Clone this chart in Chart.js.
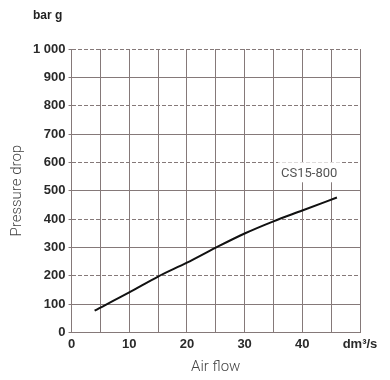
<!DOCTYPE html>
<html>
<head>
<meta charset="utf-8">
<script src="https://cdn.jsdelivr.net/npm/chart.js@4.4.1/dist/chart.umd.min.js"></script>
<style>
  html, body { margin: 0; padding: 0; background: #fff; }
  #wrap { width: 390px; height: 380px; }
</style>
</head>
<body>
<div id="wrap"><canvas id="c" width="390" height="380"></canvas></div>
<script>
// Perte de charge CS15-800 : débit d'air (dm3/s) vs pression (bar g)
const flow = [4, 10, 15, 20, 25, 30, 35, 40, 46];
const drop = [77, 141, 197, 246, 299, 349, 392, 430, 476];
const seriesName = 'CS15-800';
const xTicks = [0, 10, 20, 30, 40];
const xUnit = 'dm³/s';
const yUnit = 'bar g';
const dashedY = [200, 400, 600, 800, 1000];

const gridCol = '#857979';
const tickFont = { family: "'Liberation Sans', Arial, sans-serif", size: 13, weight: 'bold' };

// libellés "bar g" et CS15-800 (avec fond blanc)
const labels = {
  id: 'labels',
  afterDatasetsDraw(chart) {
    const { ctx, scales: { x, y } } = chart;
    ctx.save();
    ctx.font = "bold 12px 'Liberation Sans', Arial, sans-serif";
    ctx.fillStyle = '#222';
    ctx.textBaseline = 'middle';
    ctx.fillText(yUnit, 33, 16);

    const px = x.getPixelForValue(41.2), py = y.getPixelForValue(565);
    ctx.font = "13px 'Roboto', sans-serif";
    const w = ctx.measureText(seriesName).width;
    ctx.fillStyle = '#fff';
    ctx.fillRect(px - w / 2 - 3, py - 10, w + 6, 20);
    ctx.fillStyle = '#555';
    ctx.textAlign = 'center';
    ctx.fillText(seriesName, px, py + 1);
    ctx.restore();
  }
};

new Chart(document.getElementById('c'), {
  type: 'line',
  data: {
    datasets: [{
      label: seriesName,
      data: flow.map((f, i) => ({ x: f, y: drop[i] })),
      borderColor: '#111',
      borderWidth: 2,
      pointRadius: 0,
      cubicInterpolationMode: 'monotone',
      fill: false,
    }]
  },
  options: {
    responsive: false,
    animation: false,
    layout: { padding: { left: 4, right: 30, top: 49, bottom: 2 } },
    plugins: { legend: { display: false }, tooltip: { enabled: false } },
    scales: {
      x: {
        type: 'linear', min: 0, max: 50,
        ticks: {
          stepSize: 5, autoSkip: false, maxRotation: 0, padding: 4,
          font: tickFont, color: '#2a2a2a',
          callback: (v) => (v === 50 ? xUnit : (xTicks.includes(v) ? String(v) : '')),
        },
        grid: { color: gridCol, lineWidth: 1, drawTicks: false },
        border: { color: gridCol, width: 1 },
        title: { display: true, text: 'Air flow', color: '#444', font: { family: "'Roboto', sans-serif", size: 15, weight: '300' }, padding: { top: 2, bottom: 2 } },
      },
      y: {
        min: 0, max: 1000,
        ticks: {
          stepSize: 100, padding: 3, font: tickFont, color: '#2a2a2a',
          callback: (v) => (v >= 1000 ? '1 000' : String(v)),
        },
        // lignes pleines sur les centaines impaires, pointillées via y2
        grid: {
          color: (c) => ((c.tick && c.tick.value % 200 === 100) ? gridCol : 'rgba(0,0,0,0)'),
          tickColor: gridCol, tickLength: 3, lineWidth: 1,
        },
        border: { color: gridCol, width: 1 },
        title: { display: true, text: 'Pressure drop', color: '#444', font: { family: "'Roboto', sans-serif", size: 15, weight: '300' }, padding: { bottom: 4 } },
      },
      y2: {
        position: 'left', min: 0, max: 1000, display: true,
        afterBuildTicks: (axis) => { axis.ticks = dashedY.map((v) => ({ value: v })); },
        ticks: { display: false },
        grid: { color: gridCol, lineWidth: 1, drawTicks: false },
        border: { display: false, dash: [4, 2] },
      },
    }
  },
  plugins: [labels]
});
</script>
</body>
</html>
